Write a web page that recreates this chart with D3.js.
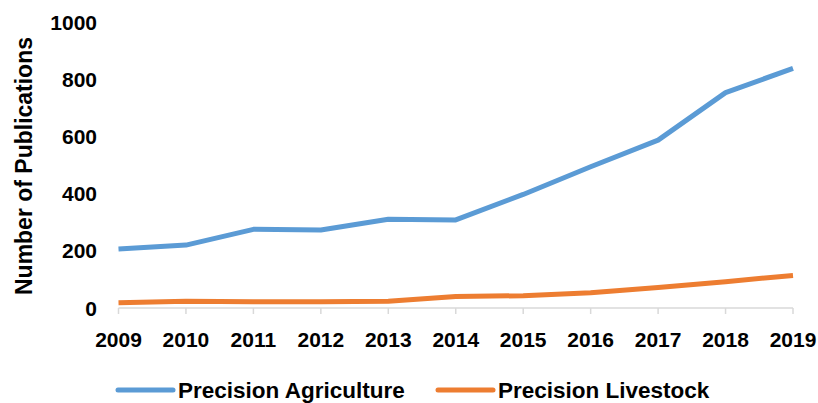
<html lang="en">
<head>
<style>
    body { margin: 0; background: #fff; }
    text { font-family: "Liberation Sans", Arial, sans-serif; font-weight: bold; fill: #000; }
</style>
</head>
<body>
</body>
<script type='text/javascript' src='https://d3js.org/d3.v7.min.js'></script>
<script>
    var years = ["2009", "2010", "2011", "2012", "2013", "2014", "2015", "2016", "2017", "2018", "2019"];
    var agriculture = [206, 220, 275, 273, 310, 308, 397, 494, 587, 753, 838];
    var livestock = [18, 24, 22, 22, 24, 40, 43, 53, 72, 92, 114];
    var yTicks = [0, 200, 400, 600, 800, 1000];
    var seriesNames = ["Precision Agriculture", "Precision Livestock"];
    var colors = ["#5B9BD5", "#ED7D31"];

    var width = 818, height = 403;
    var svg = d3.select("body").append("svg")
        .attr("width", width)
        .attr("height", height);

    var x = d3.scalePoint().domain(years).range([118.5, 793]);
    var y = d3.scaleLinear().domain([0, 1000]).range([308, 22]);

    // x axis line + ticks
    var xAxis = svg.append("g").attr("transform", "translate(0,308)");
    xAxis.append("line")
        .attr("x1", x(years[0])).attr("x2", x(years[years.length - 1]))
        .attr("stroke", "#d9d9d9").attr("stroke-width", 1.5);
    xAxis.selectAll(".tick").data(years).enter().append("line")
        .attr("x1", function(d) { return x(d); })
        .attr("x2", function(d) { return x(d); })
        .attr("y1", 0).attr("y2", 6)
        .attr("stroke", "#d9d9d9").attr("stroke-width", 1.5);
    svg.selectAll(".xlab").data(years).enter().append("text")
        .attr("x", function(d) { return x(d); })
        .attr("y", 347)
        .attr("text-anchor", "middle")
        .style("font-size", "21px")
        .text(function(d) { return d; });

    // y labels
    svg.selectAll(".ylab").data(yTicks).enter().append("text")
        .attr("x", 97)
        .attr("y", function(d) { return y(d) + 7.5; })
        .attr("text-anchor", "end")
        .style("font-size", "21px")
        .text(function(d) { return d; });

    svg.append("text")
        .attr("transform", "translate(32,166) rotate(-90)")
        .attr("text-anchor", "middle")
        .attr("textLength", 258)
        .attr("lengthAdjust", "spacingAndGlyphs")
        .style("font-size", "23px")
        .text("Number of Publications");

    var line = d3.line()
        .x(function(d, i) { return x(years[i]); })
        .y(function(d) { return y(d); });

    [agriculture, livestock].forEach(function(s, i) {
        svg.append("path")
            .attr("d", line(s))
            .attr("fill", "none")
            .attr("stroke", colors[i])
            .attr("stroke-width", 5)
            .attr("stroke-linejoin", "round");
    });

    // legend
    var legendX = [118, 438];
    seriesNames.forEach(function(name, i) {
        var g = svg.append("g").attr("transform", "translate(" + legendX[i] + ",390)");
        g.append("line")
            .attr("x1", 0).attr("x2", 55)
            .attr("stroke", colors[i]).attr("stroke-width", 5)
            .attr("stroke-linecap", "round");
        g.append("text")
            .attr("x", 60).attr("y", 8)
            .style("font-size", "22.5px")
            .text(name);
    });
</script>
</html>
